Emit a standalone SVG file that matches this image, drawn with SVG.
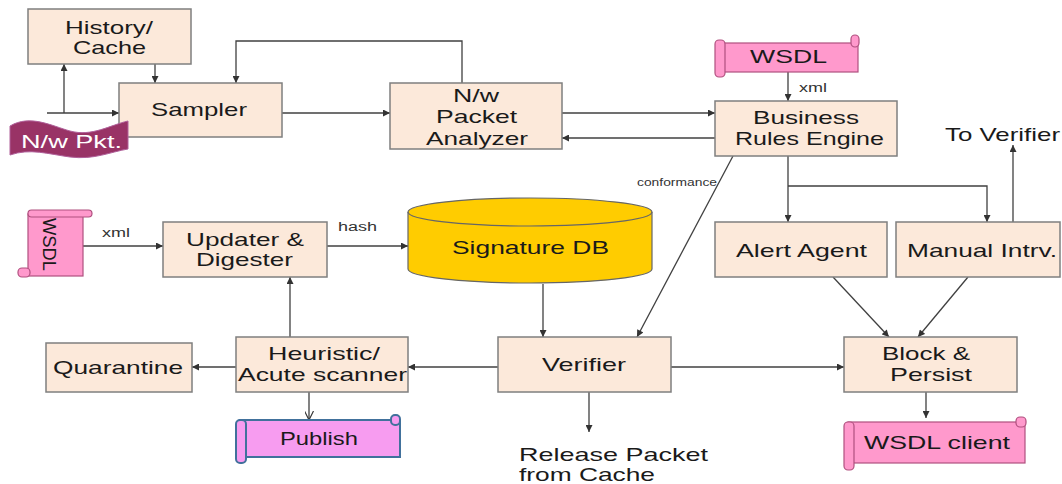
<svg xmlns="http://www.w3.org/2000/svg" width="1062" height="484" viewBox="0 0 1062 484">
<style>
.box{fill:#fce9da;stroke:#7f7f7f;stroke-width:1.5}
.t{font-family:"Liberation Sans",Arial,sans-serif;font-size:19px;fill:#1a1a1a}
.s{font-family:"Liberation Sans",Arial,sans-serif;font-size:12px;fill:#333}
.c{fill:none;stroke:#404040;stroke-width:1.3}
.pink{fill:#ff99cc;stroke:#b0507f;stroke-width:1.2}
.pub{fill:#f79cf0;stroke:#41719c;stroke-width:2}
</style>
<defs>
<marker id="a" viewBox="0 0 10 10" refX="10" refY="5" markerWidth="8" markerHeight="7" orient="auto" markerUnits="userSpaceOnUse"><path d="M0,0 L10,5 L0,10 z" fill="#333"/></marker>
<marker id="o" viewBox="0 0 10 10" refX="10" refY="5" markerWidth="9" markerHeight="9" orient="auto" markerUnits="userSpaceOnUse"><path d="M0,0 L10,5 L0,10" fill="none" stroke="#333" stroke-width="1.3"/></marker>
</defs>
<rect width="1062" height="484" fill="#fff"/>

<g id="connectors">
<path class="c" d="M155,64 V83" marker-end="url(#a)"/>
<path class="c" d="M47,113 H119" marker-end="url(#a)"/>
<path class="c" d="M64,113 V64" marker-end="url(#a)"/>
<path class="c" d="M282,113 H390" marker-end="url(#a)"/>
<path class="c" d="M462,83 V41 H236 V83" marker-end="url(#a)"/>
<path class="c" d="M562,113 H715" marker-end="url(#a)"/>
<path class="c" d="M715,138 H562" marker-end="url(#a)"/>
<path class="c" d="M788,72 V101" marker-end="url(#a)"/>
<path class="c" d="M788,156 V222" marker-end="url(#a)"/>
<path class="c" d="M788,186 H987 V222" marker-end="url(#a)"/>
<path class="c" d="M1013,222 V145" marker-end="url(#a)"/>
<path class="c" d="M733,156 L637,337" marker-end="url(#a)"/>
<path class="c" d="M83,246 H163" marker-end="url(#a)"/>
<path class="c" d="M327,246 H408" marker-end="url(#a)"/>
<path class="c" d="M543,284 V337" marker-end="url(#a)"/>
<path class="c" d="M498,367 H408" marker-end="url(#a)"/>
<path class="c" d="M236,367 H192" marker-end="url(#a)"/>
<path class="c" d="M290,337 V277" marker-end="url(#a)"/>
<path class="c" d="M309,392 V420" marker-end="url(#o)"/>
<path class="c" d="M671,367 H844" marker-end="url(#a)"/>
<path class="c" d="M589,392 V432" marker-end="url(#a)"/>
<path class="c" d="M833,277 L889,337" marker-end="url(#a)"/>
<path class="c" d="M968,277 L918,337" marker-end="url(#a)"/>
<path class="c" d="M926,392 V418" marker-end="url(#a)"/>
<text class="s" x="799" y="92" textLength="28" lengthAdjust="spacingAndGlyphs">xml</text>
<text class="s" x="102" y="237" textLength="28" lengthAdjust="spacingAndGlyphs">xml</text>
<text class="s" x="338" y="231" textLength="39" lengthAdjust="spacingAndGlyphs">hash</text>
<text class="s" x="637" y="186" font-size="10" style="font-size:10px" textLength="80" lengthAdjust="spacingAndGlyphs">conformance</text>
</g>

<g id="history">
<rect class="box" x="28" y="9" width="163" height="55"/>
<text class="t" x="65" y="34" textLength="88" lengthAdjust="spacingAndGlyphs">History/</text>
<text class="t" x="73" y="54" textLength="73" lengthAdjust="spacingAndGlyphs">Cache</text>
</g>

<g id="sampler">
<rect class="box" x="119" y="83" width="163" height="54"/>
<text class="t" x="151" y="116" textLength="96" lengthAdjust="spacingAndGlyphs">Sampler</text>
</g>

<g id="nwpkt">
<path d="M10,126 C30,114 52,126 70,131 C92,137 110,125 128,121 L128,149 C110,152 94,160 70,157 C48,154 30,148 10,155 Z" fill="#993366" stroke="#b0609a" stroke-width="1"/>
<text class="t" x="21" y="148" fill="#fff" style="fill:#fff" textLength="101" lengthAdjust="spacingAndGlyphs">N/w Pkt.</text>
</g>

<g id="analyzer">
<rect class="box" x="390" y="83" width="172" height="66"/>
<text class="t" x="453" y="102" textLength="46" lengthAdjust="spacingAndGlyphs">N/w</text>
<text class="t" x="436" y="123" textLength="81" lengthAdjust="spacingAndGlyphs">Packet</text>
<text class="t" x="426" y="145" textLength="102" lengthAdjust="spacingAndGlyphs">Analyzer</text>
</g>

<g id="wsdl-top">
<rect class="pink" x="718" y="43" width="140" height="29"/>
<rect class="pink" x="851" y="35" width="8" height="12" rx="4"/>
<rect class="pink" x="715" y="40" width="10" height="37" rx="4"/>
<text class="t" x="750" y="63" textLength="77" lengthAdjust="spacingAndGlyphs">WSDL</text>
</g>

<g id="bre">
<rect class="box" x="715" y="101" width="182" height="55"/>
<text class="t" x="753" y="124" textLength="106" lengthAdjust="spacingAndGlyphs">Business</text>
<text class="t" x="735" y="145" textLength="149" lengthAdjust="spacingAndGlyphs">Rules Engine</text>
</g>

<g id="to-verifier">
<text class="t" x="945" y="141" textLength="115" lengthAdjust="spacingAndGlyphs">To Verifier</text>
</g>

<g id="alert">
<rect class="box" x="715" y="222" width="172" height="55"/>
<text class="t" x="736" y="257" textLength="131" lengthAdjust="spacingAndGlyphs">Alert Agent</text>
</g>

<g id="manual">
<rect class="box" x="896" y="222" width="164" height="55"/>
<text class="t" x="907" y="257" textLength="150" lengthAdjust="spacingAndGlyphs">Manual Intrv.</text>
</g>

<g id="wsdl-left">
<rect class="pink" x="28" y="214" width="55" height="62"/>
<rect class="pink" x="28" y="210" width="64" height="7" rx="3.5"/>
<rect class="pink" x="18" y="268" width="12" height="9" rx="4"/>
<text class="t" transform="translate(43,218) rotate(90)" textLength="53" lengthAdjust="spacingAndGlyphs">WSDL</text>
</g>

<g id="updater">
<rect class="box" x="163" y="222" width="164" height="55"/>
<text class="t" x="186" y="246" textLength="118" lengthAdjust="spacingAndGlyphs">Updater &amp;</text>
<text class="t" x="196" y="266" textLength="97" lengthAdjust="spacingAndGlyphs">Digester</text>
</g>

<g id="sigdb">
<path d="M408,212 A122,14 0 0 1 652,212 V269 A122,14 0 0 1 408,269 Z" fill="#ffcc00" stroke="#666" stroke-width="1.2"/>
<path d="M408,212 A122,14 0 0 0 652,212" fill="none" stroke="#666" stroke-width="1.2"/>
<text class="t" x="452" y="254" textLength="157" lengthAdjust="spacingAndGlyphs">Signature DB</text>
</g>

<g id="quarantine">
<rect class="box" x="46" y="343" width="146" height="49"/>
<text class="t" x="53" y="374" textLength="130" lengthAdjust="spacingAndGlyphs">Quarantine</text>
</g>

<g id="heuristic">
<rect class="box" x="236" y="337" width="172" height="55"/>
<text class="t" x="268" y="360" textLength="112" lengthAdjust="spacingAndGlyphs">Heuristic/</text>
<text class="t" x="238" y="381" textLength="169" lengthAdjust="spacingAndGlyphs">Acute scanner</text>
</g>

<g id="publish">
<rect class="pub" x="240" y="420" width="160" height="37"/>
<rect class="pub" x="391" y="415" width="9" height="10" rx="4"/>
<rect class="pub" x="236" y="420" width="10" height="43" rx="4"/>
<text class="t" x="280" y="445" textLength="78" lengthAdjust="spacingAndGlyphs">Publish</text>
</g>

<g id="verifier">
<rect class="box" x="498" y="337" width="173" height="55"/>
<text class="t" x="542" y="371" textLength="84" lengthAdjust="spacingAndGlyphs">Verifier</text>
</g>

<g id="release">
<text class="t" x="519" y="461" textLength="189" lengthAdjust="spacingAndGlyphs">Release Packet</text>
<text class="t" x="519" y="481" textLength="136" lengthAdjust="spacingAndGlyphs">from Cache</text>
</g>

<g id="block">
<rect class="box" x="844" y="337" width="173" height="55"/>
<text class="t" x="882" y="360" textLength="88" lengthAdjust="spacingAndGlyphs">Block &amp;</text>
<text class="t" x="890" y="381" textLength="82" lengthAdjust="spacingAndGlyphs">Persist</text>
</g>

<g id="wsdl-client">
<rect class="pink" x="848" y="422" width="177" height="41"/>
<rect class="pink" x="1016" y="417" width="10" height="10" rx="4"/>
<rect class="pink" x="844" y="422" width="10" height="48" rx="4"/>
<text class="t" x="864" y="449" textLength="146" lengthAdjust="spacingAndGlyphs">WSDL client</text>
</g>
</svg>
